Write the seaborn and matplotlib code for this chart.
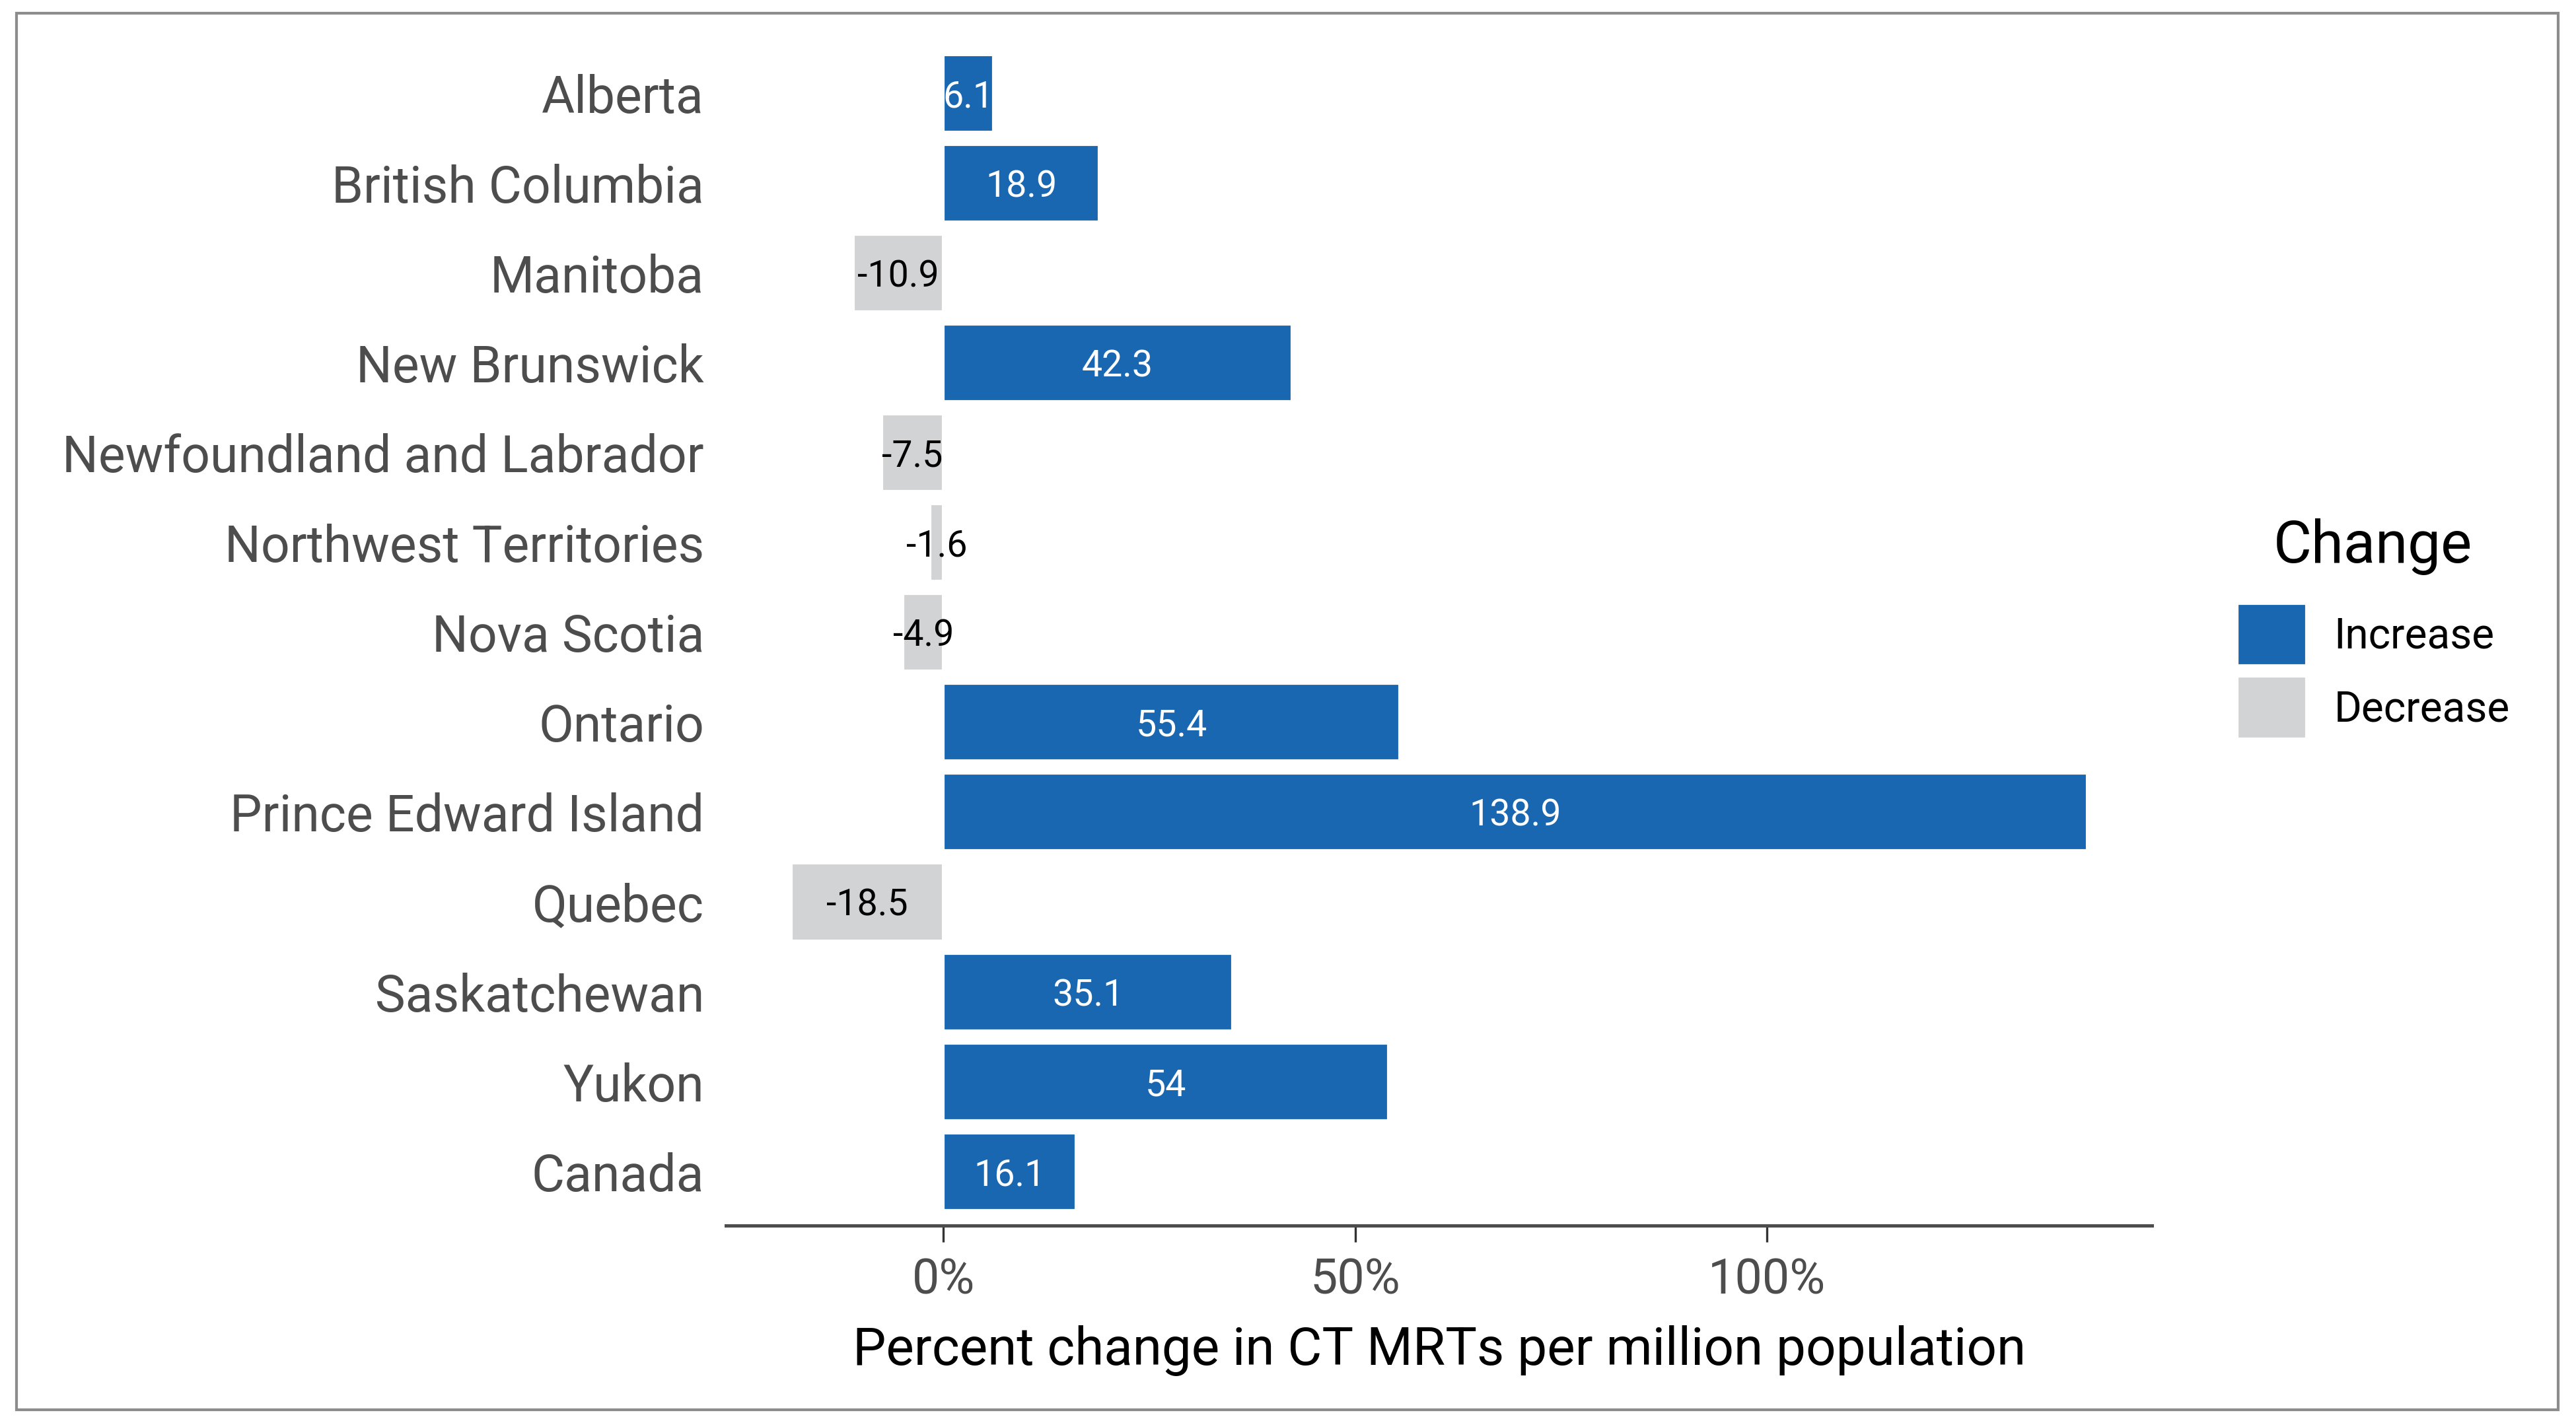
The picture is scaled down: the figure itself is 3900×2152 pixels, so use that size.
import pandas as pd
import matplotlib.pyplot as plt
import matplotlib.patches as mpatches
import seaborn as sns

# values
provinces = ['Alberta', 'British Columbia', 'Manitoba', 'New Brunswick',
             'Newfoundland and Labrador', 'Northwest Territories', 'Nova Scotia',
             'Ontario', 'Prince Edward Island', 'Quebec', 'Saskatchewan',
             'Yukon', 'Canada']
pct_change = [6.1, 18.9, -10.9, 42.3, -7.5, -1.6, -4.9, 55.4, 138.9, -18.5, 35.1, 54.0, 16.1]
x_ticks = [0, 50, 100]
x_tick_labels = ['0%', '50%', '100%']

BLUE = '#1A67B1'
GREY = '#D1D3D4'

df = pd.DataFrame({'province': provinces, 'change': pct_change})
df['Change'] = ['Increase' if v > 0 else 'Decrease' for v in df['change']]

sns.set_theme(style='white')
plt.rcParams['font.family'] = ['Roboto', 'DejaVu Sans']

fig = plt.figure(figsize=(19.5, 10.76), dpi=200)
ax = fig.add_axes([0.2819, 0.1376, 0.5536, 0.8347])

sns.barplot(data=df, x='change', y='province', hue='Change', order=provinces,
            hue_order=['Increase', 'Decrease'],
            palette={'Increase': BLUE, 'Decrease': GREY},
            dodge=False, width=0.86, edgecolor='white', linewidth=1.5,
            saturation=1, orient='h', ax=ax, legend=True)

# value labels centred in each bar
for cont, col in zip(ax.containers, ['white', 'black']):
    txts = ax.bar_label(cont, fmt='%g', label_type='center', color=col, fontsize=20)
    for t in txts:
        t.set_va('center_baseline')

lo, hi = min(pct_change), max(pct_change)
pad = (hi - lo) * 0.05
ax.set_xlim(lo - pad, hi + pad)
ax.set_ylim(len(provinces) - 0.4, -0.6)

ax.set_xticks(x_ticks)
ax.set_xticklabels(x_tick_labels)
ax.set_xlabel('Percent change in CT MRTs per million population', fontsize=28.8,
              color='black', labelpad=12)
ax.set_ylabel('')
ax.tick_params(axis='x', labelsize=26.5, labelcolor='#4D4D4D', length=9, width=1.2,
               color='#333333', bottom=True, pad=8)
ax.tick_params(axis='y', labelsize=27.7, labelcolor='#4D4D4D', length=0, pad=12)

for s in ['top', 'right', 'left']:
    ax.spines[s].set_visible(False)
ax.spines['bottom'].set_color('#4D4D4D')
ax.spines['bottom'].set_linewidth(1.8)

handles, labels = ax.get_legend_handles_labels()
ax.get_legend().remove()
leg = ax.legend(handles, labels, loc='center left',
                bbox_to_anchor=(0.8602, 0.5277), bbox_transform=fig.transFigure,
                frameon=False, fontsize=23,
                handlelength=1.65, handleheight=1.9, labelspacing=0.25,
                handletextpad=0.65, borderpad=0)
for t in leg.get_texts():
    t.set_color('black')
fig.text(0.921, 1 - 333 / 865, 'Change', ha='center', va='center', fontsize=32,
         color='black')

# thin grey frame around the whole figure
fig.patches.append(mpatches.Rectangle((0.0064, 0.008), 0.9866, 0.9826,
                                      transform=fig.transFigure, fill=False,
                                      edgecolor='#8C8C8C', linewidth=1.5))

fig.savefig('out.png', dpi=200)
